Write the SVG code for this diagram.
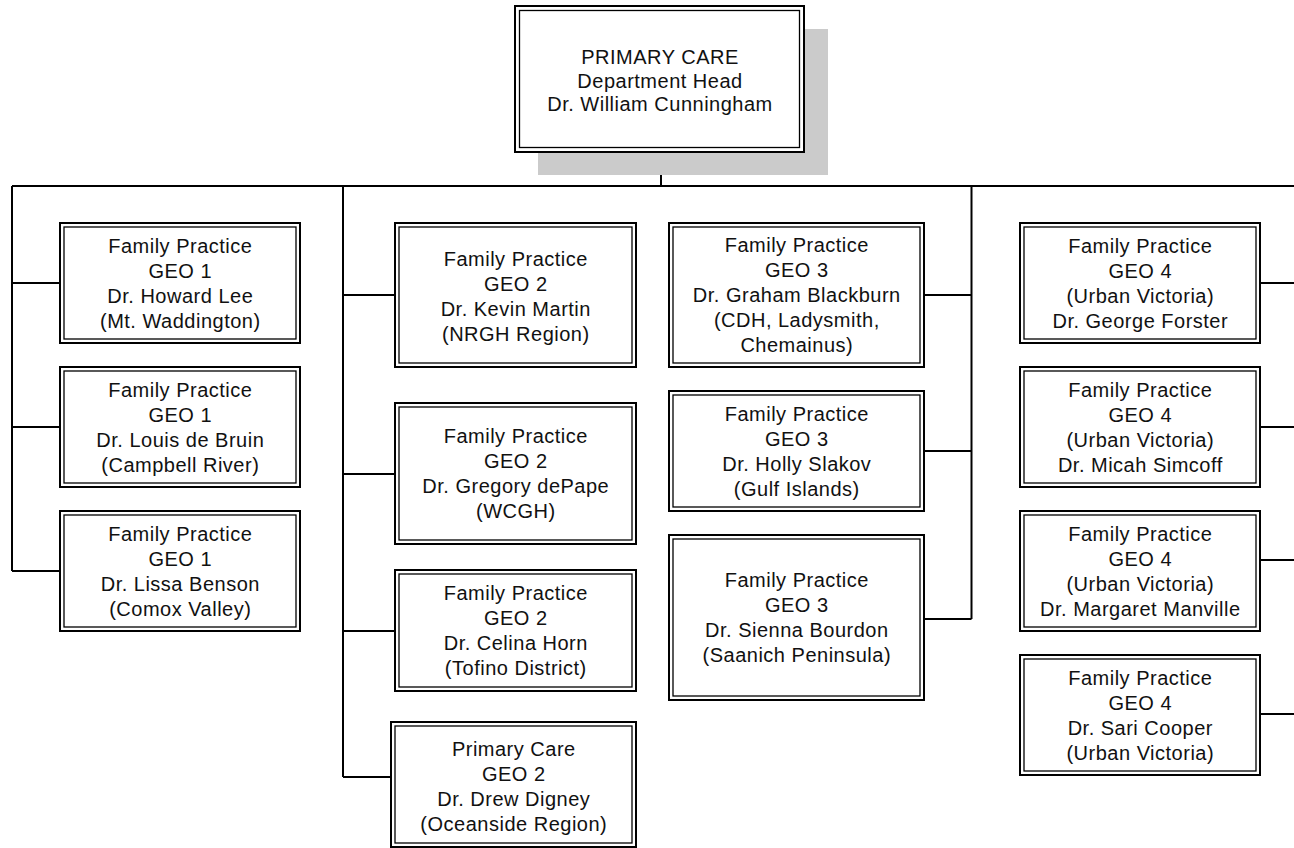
<svg xmlns="http://www.w3.org/2000/svg" width="1294" height="848" viewBox="0 0 1294 848">
<style>
.o{fill:#fff;stroke:#000;stroke-width:2}
.i{fill:none;stroke:#000;stroke-width:1.3}
.t{font-family:"Liberation Sans",Arial,sans-serif;font-size:20px;letter-spacing:0.5px;text-anchor:middle;fill:#111}
.c{fill:none;stroke:#000;stroke-width:2}
.sh{fill:#cbcbcb}
</style>
<rect width="1294" height="848" fill="#fff"/>
<g id="connectors">
<path class="c" d="M661,152V186M12,186H1294"/>
<path class="c" d="M12,186V571M12,283H60M12,427H60M12,571H60"/>
<path class="c" d="M343,186V777M343,295H395M343,474H395M343,631H395M343,777H391"/>
<path class="c" d="M971.5,186V619M924,295H971.5M924,451H971.5M924,619H971.5"/>
<path class="c" d="M1260,283H1294M1260,427H1294M1260,560H1294M1260,714H1294"/>
</g>
<g id="head">
<rect class="sh" x="538" y="29" width="290" height="146"/>
<rect class="o" x="515" y="6" width="289" height="146"/>
<rect class="i" x="519.5" y="10.5" width="280" height="137"/>
<text class="t" x="660" y="64">PRIMARY CARE</text>
<text class="t" x="660" y="87.7">Department Head</text>
<text class="t" x="660" y="111.4">Dr. William Cunningham</text>
</g>
<g id="geo1-lee">
<rect class="o" x="60" y="223" width="240" height="120"/>
<rect class="i" x="64" y="227" width="232" height="112"/>
<text class="t" x="180.3" y="252.8">Family Practice</text>
<text class="t" x="180.3" y="277.8">GEO 1</text>
<text class="t" x="180.3" y="302.8">Dr. Howard Lee</text>
<text class="t" x="180.3" y="327.8">(Mt. Waddington)</text>
</g>
<g id="geo1-debruin">
<rect class="o" x="60" y="367" width="240" height="120"/>
<rect class="i" x="64" y="371" width="232" height="112"/>
<text class="t" x="180.3" y="396.8">Family Practice</text>
<text class="t" x="180.3" y="421.8">GEO 1</text>
<text class="t" x="180.3" y="446.8">Dr. Louis de Bruin</text>
<text class="t" x="180.3" y="471.8">(Campbell River)</text>
</g>
<g id="geo1-benson">
<rect class="o" x="60" y="511" width="240" height="120"/>
<rect class="i" x="64" y="515" width="232" height="112"/>
<text class="t" x="180.3" y="540.8">Family Practice</text>
<text class="t" x="180.3" y="565.8">GEO 1</text>
<text class="t" x="180.3" y="590.8">Dr. Lissa Benson</text>
<text class="t" x="180.3" y="615.8">(Comox Valley)</text>
</g>
<g id="geo2-martin">
<rect class="o" x="395" y="223" width="241" height="144"/>
<rect class="i" x="399" y="227" width="233" height="136"/>
<text class="t" x="515.8" y="266">Family Practice</text>
<text class="t" x="515.8" y="291">GEO 2</text>
<text class="t" x="515.8" y="316">Dr. Kevin Martin</text>
<text class="t" x="515.8" y="341">(NRGH Region)</text>
</g>
<g id="geo2-depape">
<rect class="o" x="395" y="403" width="241" height="141"/>
<rect class="i" x="399" y="407" width="233" height="133"/>
<text class="t" x="515.8" y="443.3">Family Practice</text>
<text class="t" x="515.8" y="468.3">GEO 2</text>
<text class="t" x="515.8" y="493.3">Dr. Gregory dePape</text>
<text class="t" x="515.8" y="518.3">(WCGH)</text>
</g>
<g id="geo2-horn">
<rect class="o" x="395" y="570" width="241" height="121"/>
<rect class="i" x="399" y="574" width="233" height="113"/>
<text class="t" x="515.8" y="600.3">Family Practice</text>
<text class="t" x="515.8" y="625.3">GEO 2</text>
<text class="t" x="515.8" y="650.3">Dr. Celina Horn</text>
<text class="t" x="515.8" y="675.3">(Tofino District)</text>
</g>
<g id="geo2-digney">
<rect class="o" x="391" y="722" width="245" height="125"/>
<rect class="i" x="395" y="726" width="237" height="117"/>
<text class="t" x="513.8" y="755.5">Primary Care</text>
<text class="t" x="513.8" y="780.5">GEO 2</text>
<text class="t" x="513.8" y="805.5">Dr. Drew Digney</text>
<text class="t" x="513.8" y="830.5">(Oceanside Region)</text>
</g>
<g id="geo3-blackburn">
<rect class="o" x="669" y="223" width="255" height="144"/>
<rect class="i" x="673" y="227" width="247" height="136"/>
<text class="t" x="796.8" y="252.3">Family Practice</text>
<text class="t" x="796.8" y="277.3">GEO 3</text>
<text class="t" x="796.8" y="302.3">Dr. Graham Blackburn</text>
<text class="t" x="796.8" y="327.3">(CDH, Ladysmith,</text>
<text class="t" x="796.8" y="352.3">Chemainus)</text>
</g>
<g id="geo3-slakov">
<rect class="o" x="669" y="391" width="255" height="120"/>
<rect class="i" x="673" y="395" width="247" height="112"/>
<text class="t" x="796.8" y="420.8">Family Practice</text>
<text class="t" x="796.8" y="445.8">GEO 3</text>
<text class="t" x="796.8" y="470.8">Dr. Holly Slakov</text>
<text class="t" x="796.8" y="495.8">(Gulf Islands)</text>
</g>
<g id="geo3-bourdon">
<rect class="o" x="669" y="535" width="255" height="165"/>
<rect class="i" x="673" y="539" width="247" height="157"/>
<text class="t" x="796.8" y="587.3">Family Practice</text>
<text class="t" x="796.8" y="612.3">GEO 3</text>
<text class="t" x="796.8" y="637.3">Dr. Sienna Bourdon</text>
<text class="t" x="796.8" y="662.3">(Saanich Peninsula)</text>
</g>
<g id="geo4-forster">
<rect class="o" x="1020" y="223" width="240" height="120"/>
<rect class="i" x="1024" y="227" width="232" height="112"/>
<text class="t" x="1140.3" y="252.8">Family Practice</text>
<text class="t" x="1140.3" y="277.8">GEO 4</text>
<text class="t" x="1140.3" y="302.8">(Urban Victoria)</text>
<text class="t" x="1140.3" y="327.8">Dr. George Forster</text>
</g>
<g id="geo4-simcoff">
<rect class="o" x="1020" y="367" width="240" height="120"/>
<rect class="i" x="1024" y="371" width="232" height="112"/>
<text class="t" x="1140.3" y="396.8">Family Practice</text>
<text class="t" x="1140.3" y="421.8">GEO 4</text>
<text class="t" x="1140.3" y="446.8">(Urban Victoria)</text>
<text class="t" x="1140.3" y="471.8">Dr. Micah Simcoff</text>
</g>
<g id="geo4-manville">
<rect class="o" x="1020" y="511" width="240" height="120"/>
<rect class="i" x="1024" y="515" width="232" height="112"/>
<text class="t" x="1140.3" y="540.8">Family Practice</text>
<text class="t" x="1140.3" y="565.8">GEO 4</text>
<text class="t" x="1140.3" y="590.8">(Urban Victoria)</text>
<text class="t" x="1140.3" y="615.8">Dr. Margaret Manville</text>
</g>
<g id="geo4-cooper">
<rect class="o" x="1020" y="655" width="240" height="120"/>
<rect class="i" x="1024" y="659" width="232" height="112"/>
<text class="t" x="1140.3" y="684.8">Family Practice</text>
<text class="t" x="1140.3" y="709.8">GEO 4</text>
<text class="t" x="1140.3" y="734.8">Dr. Sari Cooper</text>
<text class="t" x="1140.3" y="759.8">(Urban Victoria)</text>
</g>
</svg>
